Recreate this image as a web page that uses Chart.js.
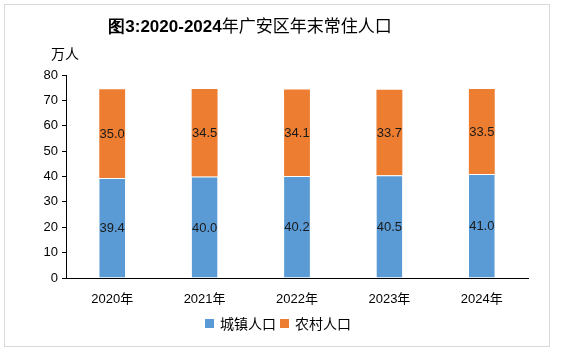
<!DOCTYPE html>
<html>
<head>
<meta charset="utf-8">
<script src="https://cdn.jsdelivr.net/npm/chart.js@4"></script>
<style>
  body { margin: 0; background: #fff; font-family: "Noto Sans CJK SC", "Noto Sans", sans-serif; }
  #wrap { position: relative; width: 577px; height: 354px; }
  #frame { position: absolute; left: 4px; top: 4px; width: 544px; height: 341px; border: 1px solid #d9d9d9; }
  #title { position: absolute; left: 0; width: 500px; top: 12px; text-align: center; font-size: 17px; color: #000; }
  #title b { font-family: "Liberation Sans", sans-serif; }
  #unit { position: absolute; left: 51px; top: 43px; font-size: 14px; color: #000; }
  #legend { position: absolute; left: 0; width: 552px; top: 313px; text-align: center; font-size: 14px; color: #000; }
  #legend span.box { display: inline-block; width: 9px; height: 9px; margin: 0 6px 0 4px; vertical-align: 1px; }
  canvas { position: absolute; left: 0; top: 0; }
</style>
</head>
<body>
<div id="wrap">
  <div id="frame"></div>
  <canvas id="chart" width="577" height="354"></canvas>
  <div id="title"><b>图3:2020-2024</b>年广安区年末常住人口</div>
  <div id="unit">万人</div>
  <div id="legend"></div>
</div>
<script>
const years = ['2020年', '2021年', '2022年', '2023年', '2024年'];
const urban = [39.4, 40.0, 40.2, 40.5, 41.0];
const rural = [35.0, 34.5, 34.1, 33.7, 33.5];
const seriesNames = ['城镇人口', '农村人口'];
const colors = ['#5b9bd5', '#ed7d31'];

// draw the value in the middle of each segment
const segmentLabels = {
  id: 'segmentLabels',
  afterDatasetsDraw(chart) {
    const ctx = chart.ctx;
    ctx.save();
    ctx.font = '13px "Liberation Sans", sans-serif';
    ctx.fillStyle = '#1a1a1a';
    ctx.textAlign = 'center';
    ctx.textBaseline = 'middle';
    chart.data.datasets.forEach((ds, i) => {
      chart.getDatasetMeta(i).data.forEach((bar, j) => {
        const mid = (bar.y + bar.base) / 2;
        ctx.fillText(ds.data[j].toFixed(1), bar.x, mid + 1);
      });
    });
    ctx.restore();
  },
};

const ctx = document.getElementById('chart').getContext('2d');
const chart = new Chart(ctx, {
  type: 'bar',
  data: {
    labels: years,
    datasets: [
      {
        label: seriesNames[0],
        data: urban,
        backgroundColor: colors[0],
        borderColor: '#ffffff',
        borderWidth: { top: 1, left: 0, right: 0, bottom: 0 },
        borderSkipped: false,
        barPercentage: 0.28,
        categoryPercentage: 1,
      },
      {
        label: seriesNames[1],
        data: rural,
        backgroundColor: colors[1],
        borderWidth: 0,
        barPercentage: 0.28,
        categoryPercentage: 1,
      },
    ],
  },
  options: {
    responsive: false,
    animation: false,
    layout: { padding: { top: 75, right: 49, left: 0, bottom: 0 } },
    plugins: {
      legend: { display: false },
      tooltip: { enabled: false },
    },
    scales: {
      x: {
        stacked: true,
        grid: { display: false },
        border: { color: '#000', width: 1 },
        ticks: { color: '#000', font: { size: 13, family: '"Liberation Sans", "Noto Sans CJK SC", sans-serif' }, padding: 6 },
        afterFit(scale) { scale.height = 76; },
      },
      y: {
        stacked: true,
        min: 0,
        max: 80,
        ticks: { stepSize: 10, color: '#000', font: { size: 13, family: '"Liberation Sans", sans-serif' }, padding: 4 },
        grid: { drawOnChartArea: false, drawTicks: true, tickLength: 4, color: '#000' },
        border: { color: '#000', width: 1 },
        afterFit(scale) { scale.width = 66; },
      },
    },
  },
  plugins: [segmentLabels],
});

// legend in html, built from the datasets
$legend = document.getElementById('legend');
$legend.innerHTML = chart.data.datasets
  .map(ds => `<span class="box" style="background:${ds.backgroundColor}"></span>${ds.label}`)
  .join('');
</script>
</body>
</html>
